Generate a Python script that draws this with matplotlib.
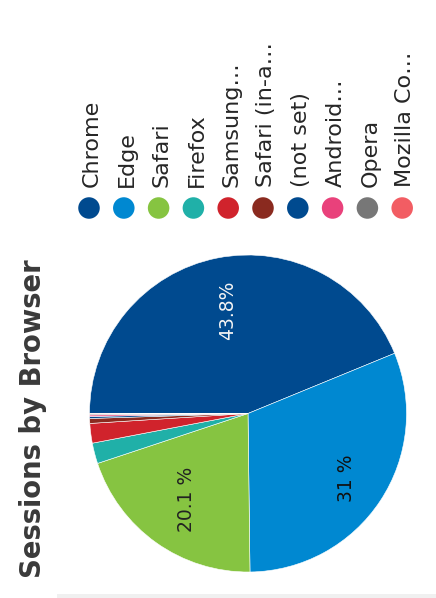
import numpy as np
import matplotlib.pyplot as plt

browsers = ["Chrome", "Edge", "Safari", "Firefox", "Samsung Internet",
            "Safari (in-app)", "(not set)", "Android Webview", "Opera",
            "Mozilla Compatible Agent"]
legend_labels = ["Chrome", "Edge", "Safari", "Firefox", "Samsung…",
                 "Safari (in-a…", "(not set)", "Android…", "Opera",
                 "Mozilla Co…"]
shares = [43.8, 31.0, 20.1, 2.1, 2.0, 0.5, 0.2, 0.15, 0.1, 0.05]
colors = ["#004a8f", "#0088d1", "#86c441", "#20b0a8", "#d0232c",
          "#8a2a1f", "#004a8f", "#e9417b", "#777777", "#f25d63"]

W, H = 436, 598
fig = plt.figure(figsize=(W / 100, H / 100), dpi=100)

# pie axes (pixel box: centre 248,413 radius 158)
cx, cy, r = 248, 413.5, 158.5
ax = fig.add_axes([(cx - r) / W, (H - cy - r) / H, 2 * r / W, 2 * r / H])
wedges, _ = ax.pie(shares, colors=colors, startangle=180, counterclock=False,
                   radius=1, wedgeprops=dict(linewidth=0.4, edgecolor="white"))
ax.set_xlim(-1, 1)
ax.set_ylim(-1, 1)
ax.axis("off")

# percentage labels, rotated like the rest of the chart
label_r = [0.665, 0.745, 0.665]
label_col = ["#f4f4f4", "#111111", "#222222"]
for i, w in enumerate(wedges[:3]):
    mid = np.deg2rad((w.theta1 + w.theta2) / 2)
    val = shares[i]
    txt = f"{val:g} %" if i else f"{val:g}%"
    ax.text(label_r[i] * np.cos(mid), label_r[i] * np.sin(mid), txt,
            rotation=90, ha="center", va="center", fontsize=13.5,
            color=label_col[i])

# overlay in pixel coordinates for title / legend
ov = fig.add_axes([0, 0, 1, 1])
ov.set_xlim(0, W)
ov.set_ylim(H, 0)
ov.axis("off")

ov.text(41, 578, "Sessions by Browser", rotation=90, rotation_mode="anchor",
        ha="left", va="baseline", fontsize=19.8, fontweight="bold",
        color="#3a3a3a")

xs = 89 + 34.8 * np.arange(len(legend_labels))
ov.scatter(xs, np.full(len(xs), 208), s=240, c=colors, linewidths=0)
for x, lab in zip(xs, legend_labels):
    ov.text(x + 9, 187, lab, rotation=90, rotation_mode="anchor",
            ha="left", va="baseline", fontsize=16, color="#262626")

# faint strip along the bottom edge
ov.add_patch(plt.Rectangle((57, 594), W - 57, 4, color="#f0f0f0", lw=0))

fig.savefig("out.png", dpi=100)
